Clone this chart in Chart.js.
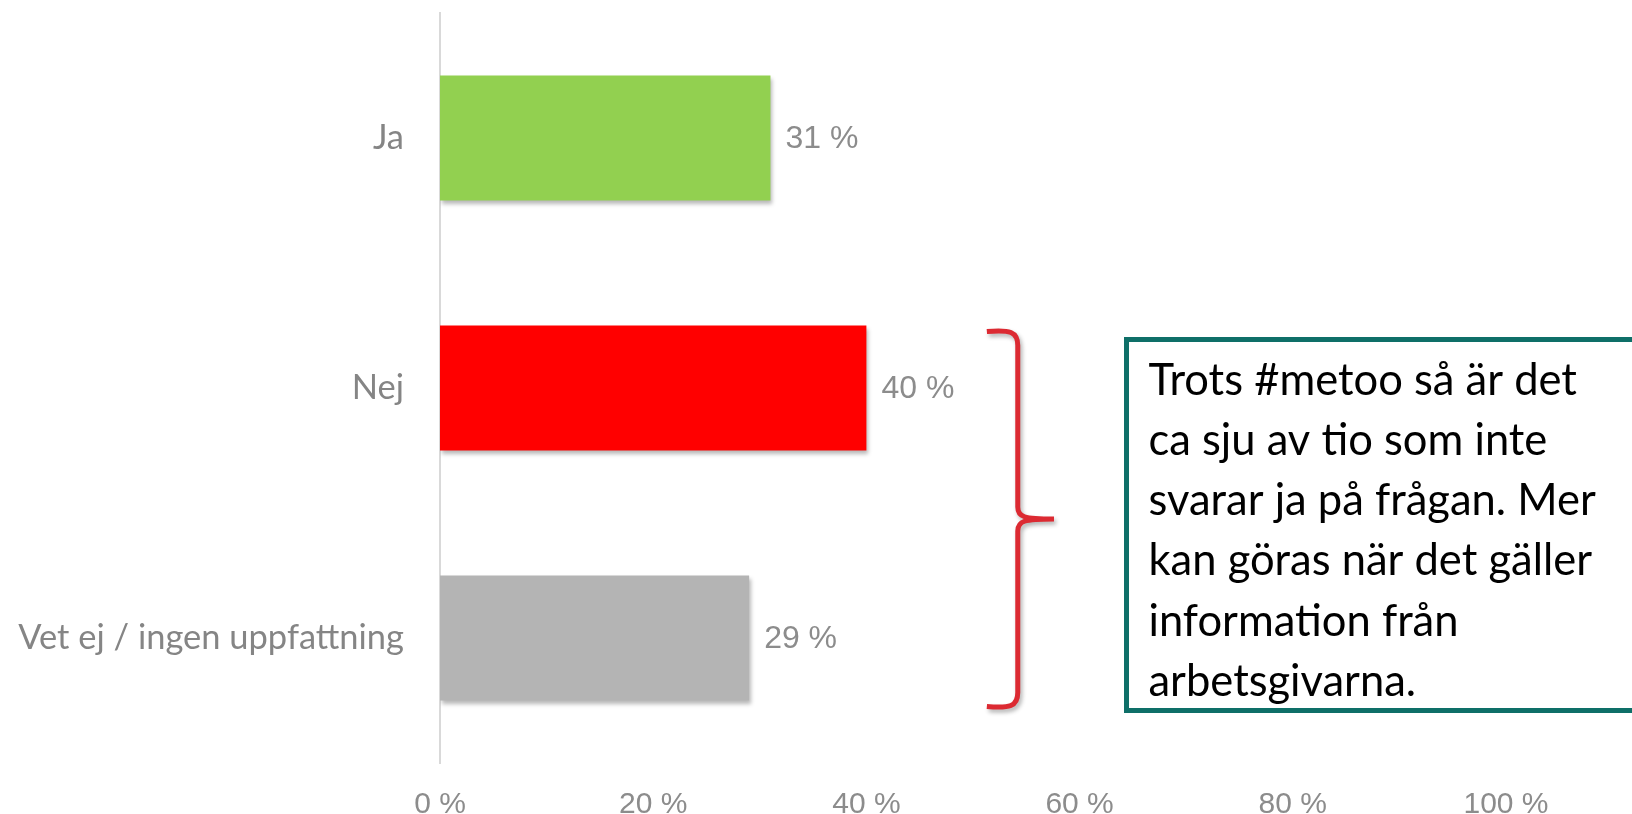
<!DOCTYPE html>
<html>
<head>
<meta charset="utf-8">
<script src="https://cdn.jsdelivr.net/npm/chart.js@4.4.0/dist/chart.umd.min.js"></script>
<style>
  html, body { margin: 0; padding: 0; background: #fff; }
  #wrap { width: 1632px; height: 814px; }
</style>
</head>
<body>
<div id="wrap"><canvas id="svarChart" width="1632" height="814"></canvas></div>
<script>
// Data
const kategorier = ['Ja', 'Nej', 'Vet ej / ingen uppfattning'];
const andelar = [31, 40, 29];
const farger = ['#92D050', '#FF0000', '#B4B4B4'];
const xTicks = [0, 20, 40, 60, 80, 100];
const kommentar = [
    'Trots #metoo så är det',
    'ca sju av tio som inte',
    'svarar ja på frågan. Mer',
    'kan göras när det gäller',
    'information från',
    'arbetsgivarna.'
];

const grå = '#8C8C8C';
const humanist = 'Lato, "Open Sans", sans-serif';

// storlek så att texten får en viss bredd (Calibri finns inte)
function fitSize(text, width) {
    const c = document.createElement('canvas').getContext('2d');
    c.font = '40px ' + humanist;
    return 40 * width / c.measureText(text).width;
}
const kategoriSize = fitSize(kategorier[2], 386);

// skugga under staplarna
const barShadow = {
    id: 'barShadow',
    beforeDatasetDraw(chart) {
        const ctx = chart.ctx;
        ctx.save();
        ctx.shadowColor = 'rgba(0,0,0,0.28)';
        ctx.shadowBlur = 4;
        ctx.shadowOffsetX = 2;
        ctx.shadowOffsetY = 3;
    },
    afterDatasetDraw(chart) {
        chart.ctx.restore();
    }
};

// etiketter vid stapelns slut
const valueLabels = {
    id: 'valueLabels',
    afterDatasetsDraw(chart) {
        const ctx = chart.ctx;
        const meta = chart.getDatasetMeta(0);
        ctx.save();
        ctx.font = '32px "Liberation Sans", Arial, sans-serif';
        ctx.fillStyle = grå;
        ctx.textAlign = 'left';
        ctx.textBaseline = 'middle';
        meta.data.forEach((bar, i) => {
            ctx.fillText(andelar[i] + ' %', bar.x + 15, bar.y + 1);
        });
        ctx.restore();
    }
};

// klammer och textruta
const annotering = {
    id: 'annotering',
    afterDraw(chart) {
        const ctx = chart.ctx;
        const xs = chart.scales.x;
        const meta = chart.getDatasetMeta(0);
        const nej = meta.data[1];
        const vet = meta.data[2];
        const top = nej.y - nej.height / 2 + 6;
        const bottom = vet.y + vet.height / 2 + 6;
        const mid = (top + bottom) / 2;
        const xTip = xs.getPixelForValue(51.3);
        const xLine = xs.getPixelForValue(54.2);
        const xPoint = xs.getPixelForValue(57.6);

        ctx.save();
        ctx.strokeStyle = '#DC2A32';
        ctx.lineWidth = 5;
        ctx.lineJoin = 'round';
        ctx.shadowColor = 'rgba(0,0,0,0.3)';
        ctx.shadowBlur = 4;
        ctx.shadowOffsetX = 2;
        ctx.shadowOffsetY = 3;
        ctx.beginPath();
        ctx.moveTo(xTip, top);
        ctx.bezierCurveTo(xLine - 8, top - 2, xLine, top, xLine, top + 14);
        ctx.lineTo(xLine, mid - 12);
        ctx.bezierCurveTo(xLine, mid - 2, xLine + 6, mid, xPoint, mid);
        ctx.moveTo(xPoint, mid);
        ctx.bezierCurveTo(xLine + 6, mid, xLine, mid + 2, xLine, mid + 12);
        ctx.lineTo(xLine, bottom - 14);
        ctx.bezierCurveTo(xLine, bottom, xLine - 8, bottom + 2, xTip, bottom);
        ctx.stroke();
        ctx.restore();

        // textruta
        const boxLeft = xs.getPixelForValue(64.4);
        const boxTop = top + 8;
        const boxBottom = bottom + 4;
        ctx.save();
        ctx.fillStyle = '#fff';
        ctx.fillRect(boxLeft, boxTop, chart.width + 20 - boxLeft, boxBottom - boxTop);
        ctx.strokeStyle = '#0E6F68';
        ctx.lineWidth = 5;
        ctx.strokeRect(boxLeft, boxTop, chart.width + 20 - boxLeft, boxBottom - boxTop);

        ctx.font = fitSize(kommentar[0], 428).toFixed(1) + 'px ' + humanist;
        ctx.fillStyle = '#000';
        ctx.textAlign = 'left';
        ctx.textBaseline = 'alphabetic';
        kommentar.forEach((rad, i) => {
            ctx.fillText(rad, boxLeft + 22, boxTop + 55 + i * 60.3);
        });
        ctx.restore();
    }
};

const ctx = document.getElementById('svarChart');

new Chart(ctx, {
    type: 'bar',
    data: {
        labels: kategorier,
        datasets: [{
            data: andelar,
            backgroundColor: farger,
            borderWidth: 0,
            barPercentage: 0.5,
            categoryPercentage: 1.0
        }]
    },
    options: {
        indexAxis: 'y',
        responsive: false,
        animation: false,
        layout: {
            padding: { top: 13, right: 126, left: 0, bottom: 0 }
        },
        plugins: {
            legend: { display: false },
            tooltip: { enabled: false }
        },
        scales: {
            x: {
                min: 0,
                max: 100,
                afterBuildTicks(scale) {
                    scale.ticks = xTicks.map(v => ({ value: v }));
                },
                afterFit(scale) {
                    scale.height = 51;
                },
                grid: { display: false, drawTicks: false },
                border: { display: false },
                ticks: {
                    color: grå,
                    padding: 24,
                    font: { family: '"Liberation Sans", Arial, sans-serif', size: 30 },
                    callback: v => v + ' %'
                }
            },
            y: {
                afterFit(scale) {
                    scale.width = 440;
                    scale.paddingTop = 0;
                    scale.paddingBottom = 0;
                },
                grid: { display: false, drawTicks: false },
                border: { display: true, color: '#D9D9D9', width: 2 },
                ticks: {
                    color: '#858585',
                    padding: 36,
                    font: { family: humanist, size: kategoriSize }
                }
            }
        }
    },
    plugins: [barShadow, valueLabels, annotering]
});
</script>
</body>
</html>
